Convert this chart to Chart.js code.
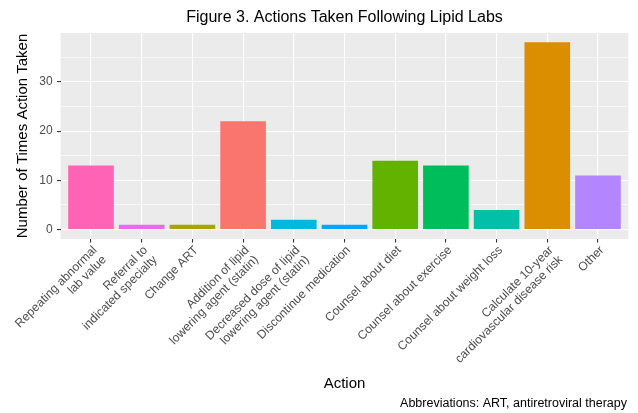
<!DOCTYPE html>
<html lang="en">
<head>
<meta charset="UTF-8">
<title>Figure 3. Actions Taken Following Lipid Labs</title>
<script src="https://cdn.jsdelivr.net/npm/chart.js"></script>
<style>
  body { margin: 0; background: #fff; }
  canvas { display: block; }
</style>
</head>
<body>
<canvas id="actionsChart" width="638" height="413"></canvas>
<script>
// Data
const actions = [
    ['Repeating abnormal', 'lab value'],
    ['Referral to', 'indicated specialty'],
    'Change ART',
    ['Addition of lipid', 'lowering agent (statin)'],
    ['Decreased dose of lipid', 'lowering agent (statin)'],
    'Discontinue medication',
    'Counsel about diet',
    'Counsel about exercise',
    'Counsel about weight loss',
    ['Calculate 10-year', 'cardiovascular disease risk'],
    'Other'
];
const timesTaken = [13, 1, 1, 22, 2, 1, 14, 13, 4, 38, 11];
const barColors = ['#FF63B6', '#EF67EB', '#AEA200', '#F8766D', '#00BADE', '#00A6FF',
                   '#64B200', '#00BD5C', '#00C1A7', '#DB8E00', '#B385FF'];
const yTicks = [0, 5, 10, 15, 20, 25, 30, 35];   // labelled every 10, minor lines at 5s

const titleText = 'Figure 3. Actions Taken Following Lipid Labs';
const captionText = 'Abbreviations: ART, antiretroviral therapy';
const fontFamily = '"Liberation Sans", Arial, Helvetica, sans-serif';

// ggplot-style grey panel plus title and caption
const ggPanel = {
    id: 'ggPanel',
    beforeDraw(chart) {
        const { ctx, chartArea: a } = chart;
        ctx.save();
        ctx.fillStyle = '#EBEBEB';
        ctx.fillRect(a.left, a.top, a.right - a.left, a.bottom - a.top);
        ctx.restore();
    },
    afterDraw(chart) {
        const { ctx, chartArea: a } = chart;
        ctx.save();
        ctx.fillStyle = '#000';
        ctx.textBaseline = 'middle';
        ctx.font = '16px ' + fontFamily;
        ctx.textAlign = 'center';
        ctx.fillText(titleText, (a.left + a.right) / 2, 17.5);
        ctx.font = '12.5px ' + fontFamily;
        ctx.textAlign = 'right';
        ctx.fillText(captionText, 627, 404);
        ctx.restore();
    }
};

const isMajor = v => v % 10 === 0;

new Chart(document.getElementById('actionsChart'), {
    type: 'bar',
    data: {
        datasets: [{
            data: timesTaken.map((v, i) => ({ x: i, y: v })),
            backgroundColor: barColors,
            borderWidth: 0,
            categoryPercentage: 1,
            barPercentage: 0.9
        }]
    },
    options: {
        responsive: false,
        animation: false,
        layout: { padding: { top: 33, right: 9.6, bottom: 18, left: 0 } },
        plugins: { legend: { display: false }, tooltip: { enabled: false } },
        scales: {
            x: {
                type: 'linear',
                min: -0.6,
                max: 10.6,
                offset: false,
                afterBuildTicks: scale => { scale.ticks = actions.map((_, i) => ({ value: i })); },
                afterFit: scale => { scale.height = 156; scale.paddingLeft = 0; scale.paddingRight = 0; },
                grid: { color: '#FFFFFF', lineWidth: 1.1, offset: false, tickLength: 3.5, tickColor: '#333333' },
                border: { display: false },
                ticks: {
                    autoSkip: false,
                    minRotation: 45,
                    maxRotation: 45,
                    padding: 1,
                    labelOffset: 4,
                    color: '#4D4D4D',
                    font: { family: fontFamily, size: 12.2, lineHeight: 1.1 },
                    callback: (value) => actions[value]
                },
                title: {
                    display: true,
                    text: 'Action',
                    color: '#000',
                    font: { family: fontFamily, size: 15 },
                    padding: { top: 0, bottom: 2 }
                }
            },
            y: {
                min: -1.9,
                max: 39.9,
                afterBuildTicks: scale => { scale.ticks = yTicks.map(v => ({ value: v })); },
                afterFit: scale => { scale.width = 60.6; scale.paddingTop = 0; scale.paddingBottom = 0; },
                grid: {
                    color: '#FFFFFF',
                    lineWidth: ctx => isMajor(ctx.tick.value) ? 1.1 : 0.55,
                    tickLength: 3.5,
                    tickColor: ctx => isMajor(ctx.tick.value) ? '#333333' : 'rgba(0,0,0,0)'
                },
                border: { display: false },
                ticks: {
                    autoSkip: false,
                    padding: 4.5,
                    color: '#4D4D4D',
                    font: { family: fontFamily, size: 12 },
                    callback: value => isMajor(value) ? value : ''
                },
                title: {
                    display: true,
                    text: 'Number of Times Action Taken',
                    color: '#000',
                    font: { family: fontFamily, size: 15 },
                    padding: { top: 14, bottom: 0 }
                }
            }
        }
    },
    plugins: [ggPanel]
});
</script>
</body>
</html>
